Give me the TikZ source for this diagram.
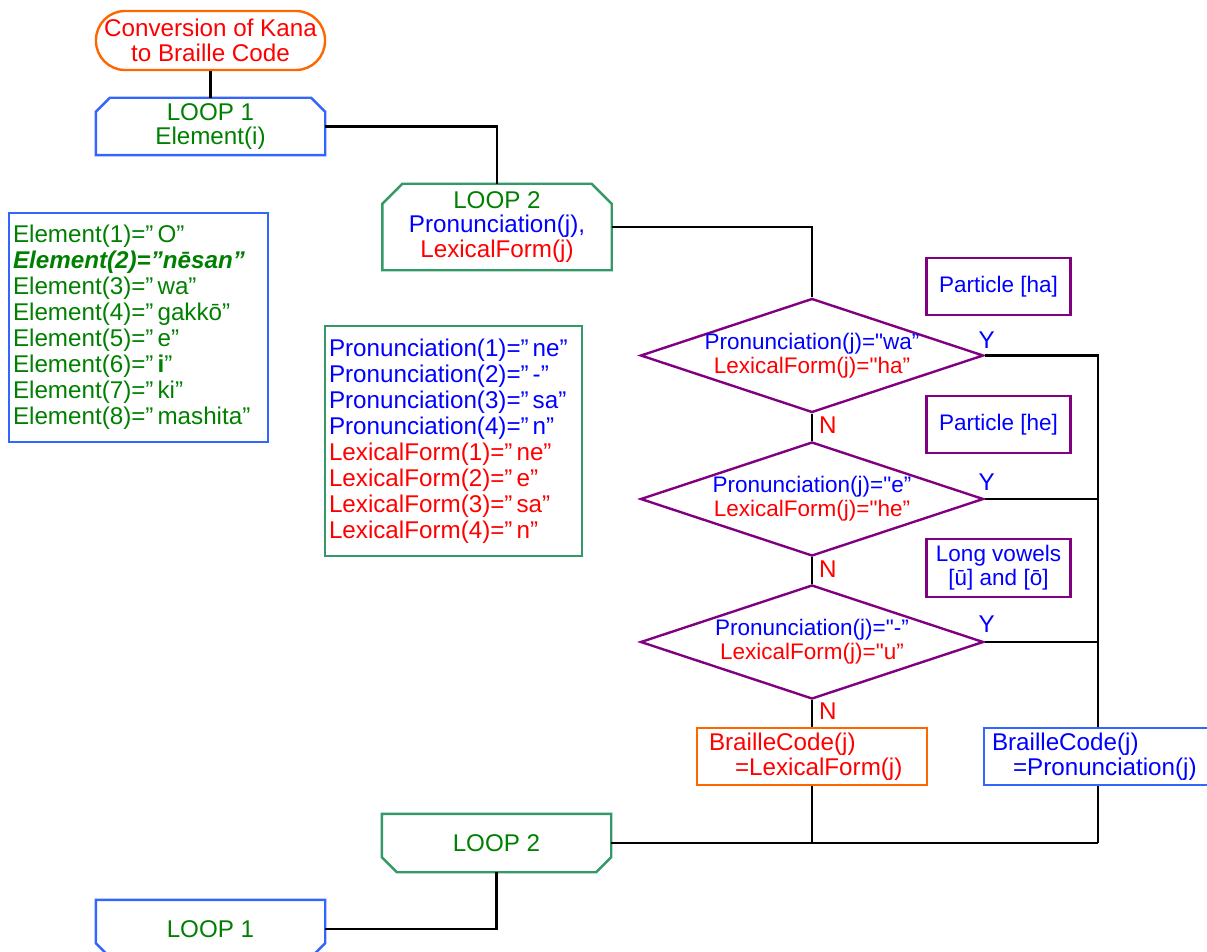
\documentclass[tikz,border=0pt]{standalone}
\usepackage{fontspec}
\setmainfont{Liberation Sans}[Ligatures=TeXOff]
\usetikzlibrary{shapes.geometric}
\definecolor{tred}{RGB}{255,0,0}
\definecolor{tblue}{RGB}{0,0,255}
\definecolor{tgreen}{RGB}{0,128,0}
\definecolor{borange}{RGB}{255,102,0}
\definecolor{bblue}{RGB}{51,102,255}
\definecolor{bgreen}{RGB}{51,153,102}
\definecolor{bpurple}{RGB}{128,0,128}
\begin{document}
\begin{tikzpicture}[x=1pt,y=-1pt,
  every node/.style={font=\fontsize{24.2}{24.5}\selectfont},
  box/.style={draw,line width=2.4pt,inner sep=0pt,align=center},
  listbox/.style={box,align=left,inner xsep=4pt,font=\fontsize{24.2}{26}\selectfont},
  notebox/.style={box,draw=bpurple,text=tblue,minimum width=144pt,font=\fontsize{22.5}{24}\selectfont},
  loopbox/.style={inner sep=0pt,align=center,text=tgreen,minimum width=229pt},
  loopline/.style={line width=2.4pt},
  cond/.style={diamond,draw=bpurple,line width=2.4pt,minimum width=343pt,minimum height=114pt,inner sep=0pt},
  condtext/.style={align=center,font=\fontsize{22.5}{24}\selectfont},
  ylab/.style={text=tblue,inner sep=0pt,anchor=base},
  nlab/.style={text=tred,inner sep=0pt,anchor=base west},
  conn/.style={line width=2.4pt}]
\useasboundingbox (0,0) rectangle (1207,952);

\node[box,draw=borange,text=tred,rounded corners=29pt,minimum width=229pt,minimum height=59pt] (start) at (210.5,40.5) {Conversion of Kana\\to Braille Code};

\node[loopbox,minimum height=57pt] (l1) at (210.5,126.5) {LOOP 1\\Element(i)};
\draw[loopline,bblue] (l1.south west) -- ([yshift=-14pt]l1.north west) -- ([xshift=14pt]l1.north west) -- ([xshift=-14pt]l1.north east) -- ([yshift=-14pt]l1.north east) -- (l1.south east) -- cycle;

\node[loopbox,minimum height=86pt] (l2t) at (497,227) {LOOP 2\\\textcolor{tblue}{Pronunciation(j),}\\\textcolor{tred}{LexicalForm(j)}};
\draw[loopline,bgreen] (l2t.south west) -- ([yshift=-20pt]l2t.north west) -- ([xshift=20pt]l2t.north west) -- ([xshift=-20pt]l2t.north east) -- ([yshift=-20pt]l2t.north east) -- (l2t.south east) -- cycle;

\node[listbox,draw=bblue,text=tgreen,text width=251pt,minimum height=229pt] (elem) at (138.5,327.5) {Element(1)=”\,O”\\\textbf{\textit{Element(2)=”nēsan”}}\\Element(3)=”\,wa”\\Element(4)=”\,gakkō”\\Element(5)=”\,e”\\Element(6)=”\,\textbf{i}”\\Element(7)=”\,ki”\\Element(8)=”\,mashita”};

\node[listbox,draw=bgreen,text width=249pt,minimum height=230pt] (pron) at (453.5,441) {\textcolor{tblue}{Pronunciation(1)=”\,ne”}\\\textcolor{tblue}{Pronunciation(2)=”\,-”}\\\textcolor{tblue}{Pronunciation(3)=”\,sa”}\\\textcolor{tblue}{Pronunciation(4)=”\,n”}\\\textcolor{tred}{LexicalForm(1)=”\,ne”}\\\textcolor{tred}{LexicalForm(2)=”\,e”}\\\textcolor{tred}{LexicalForm(3)=”\,sa”}\\\textcolor{tred}{LexicalForm(4)=”\,n”}};

\node[cond,label={[condtext]center:\textcolor{tblue}{Pronunciation(j)="wa”}\\\textcolor{tred}{LexicalForm(j)="ha”}}] (d1) at (812,355.5) {};
\node[cond,label={[condtext]center:\textcolor{tblue}{Pronunciation(j)="e”}\\\textcolor{tred}{LexicalForm(j)="he”}}] (d2) at (812,499) {};
\node[cond,label={[condtext]center:\textcolor{tblue}{Pronunciation(j)="-”}\\\textcolor{tred}{LexicalForm(j)="u”}}] (d3) at (812,642) {};

\node[ylab] (y1) at ([xshift=2pt,yshift=7pt]d1.east) {Y};
\node[ylab] (y2) at ([xshift=2pt,yshift=9pt]d2.east) {Y};
\node[ylab] (y3) at ([xshift=2pt,yshift=10pt]d3.east) {Y};
\node[nlab] (n1) at ([xshift=7pt,yshift=-20pt]d1.south) {N};
\node[nlab] (n2) at ([xshift=7pt,yshift=-20pt]d2.south) {N};
\node[nlab] (n3) at ([xshift=7pt,yshift=-19pt]d3.south) {N};

\node[notebox,minimum height=57pt] (pha) at (998.5,286.5) {Particle [ha]};
\node[notebox,minimum height=57pt] (phe) at (998.5,424.5) {Particle [he]};
\node[notebox,minimum height=58pt] (plv) at (998.5,568) {Long vowels\\\relax[ū] and [ō]};

\node[box,draw=borange,text=tred,align=left,text width=206pt,inner xsep=12pt,minimum height=57pt] (bl) at (812,756.5) {BrailleCode(j)\\\hspace*{26pt}=LexicalForm(j)};
\node[box,draw=bblue,text=tblue,align=left,text width=212pt,inner xsep=8pt,minimum height=57pt] (bp) at (1098,756.5) {BrailleCode(j)\\\hspace*{21pt}=Pronunciation(j)};

\node[loopbox,minimum height=58pt] (l2b) at (496.5,843) {LOOP 2};
\draw[loopline,bgreen] (l2b.north west) -- ([yshift=15pt]l2b.south west) -- ([xshift=15pt]l2b.south west) -- ([xshift=-15pt]l2b.south east) -- ([yshift=15pt]l2b.south east) -- (l2b.north east) -- cycle;

\node[loopbox,minimum height=58pt] (l1b) at (210.5,929) {LOOP 1};
\draw[loopline,bblue] (l1b.north west) -- ([yshift=15pt]l1b.south west) -- ([xshift=15pt]l1b.south west) -- ([xshift=-15pt]l1b.south east) -- ([yshift=15pt]l1b.south east) -- (l1b.north east) -- cycle;

\coordinate (bus) at (1098,843);
\draw[conn] (start.south) -- (l1.north);
\draw[conn] (l1.east) -| (l2t.north);
\draw[conn] (l2t.east) -| (d1.north);
\draw[conn] (d1.south) -- (d2.north);
\draw[conn] (d2.south) -- (d3.north);
\draw[conn] (d3.south) -- (bl.north);
\draw[conn] (d1.east) -| (bp.north);
\draw[conn] (d2.east) -- (d2.east -| bus);
\draw[conn] (d3.east) -- (d3.east -| bus);
\draw[conn] (bp.south) -- (bus);
\draw[conn] (bl.south) -- (bl.south |- bus);
\draw[conn] (l2b.east) -- (bus);
\draw[conn] (l2b.south) |- (l1b.east);
\end{tikzpicture}
\end{document}
